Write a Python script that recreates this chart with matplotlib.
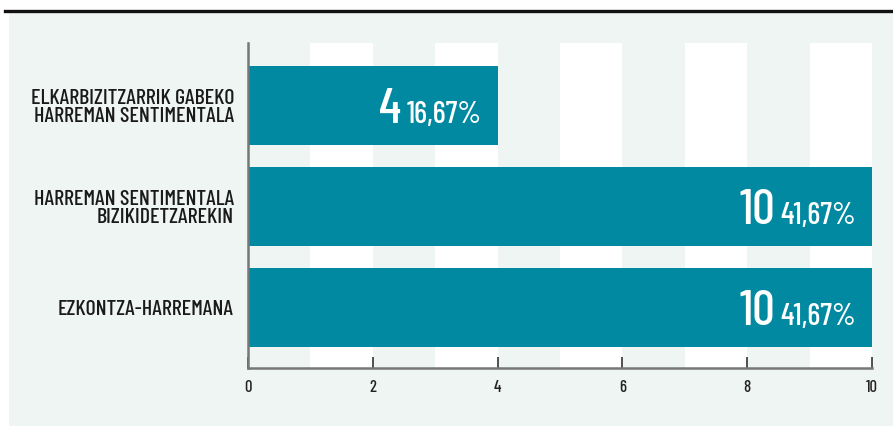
import matplotlib
matplotlib.use("Agg")
import matplotlib.pyplot as plt
from matplotlib.lines import Line2D
from matplotlib.patches import Rectangle

categories = ["ELKARBIZITZARRIK GABEKO\nHARREMAN SENTIMENTALA",
              "HARREMAN SENTIMENTALA\nBIZIKIDETZAREKIN",
              "EZKONTZA-HARREMANA"]
values = [4, 10, 10]
percents = ["16,67%", "41,67%", "41,67%"]
xticks = [0, 2, 4, 6, 8, 10]

FONT = ["Barlow Condensed", "DejaVu Sans"]
plt.rcParams['font.family'] = FONT

W, H = 893, 426
fig = plt.figure(figsize=(W / 100, H / 100), dpi=100)
fig.patch.set_facecolor("white")

# panel background
fig.add_artist(Rectangle((9 / W, 0), 1 - 9 / W, (H - 12) / H, transform=fig.transFigure,
                         facecolor="#eff5f3", edgecolor="none", zorder=0))
# top black line
fig.add_artist(Line2D([5 / W, 1], [(H - 10.5) / H, (H - 10.5) / H], transform=fig.transFigure,
                      color="#111111", linewidth=2.4, zorder=1))

ax = fig.add_axes([248 / W, (H - 368) / H, (872 - 248) / W, (368 - 43) / H])
ax.set_facecolor("none")

# alternating white stripes
for s in range(1, 10, 2):
    ax.axvspan(s, s + 1, color="white", zorder=0, linewidth=0)

ypos = list(range(len(categories)))
bar_color = "#0089a0"
ax.barh(ypos, values, height=0.78, color=bar_color, zorder=2)

ax.set_xlim(0, 10)
ax.set_ylim(2.6, -0.62)
ax.set_xticks(xticks)
ax.set_xticklabels([str(t) for t in xticks], fontsize=12, fontweight=500, color="#222222")
ax.tick_params(axis="x", direction="in", length=8, width=1.2, color="#333333", pad=9)
ax.set_yticks(ypos)
ax.set_yticklabels(categories, fontsize=15.8, fontweight=500, color="#1a1a1a", linespacing=0.95)
ax.tick_params(axis="y", length=0, pad=10)

for side in ["top", "right"]:
    ax.spines[side].set_visible(False)
for side in ["left", "bottom"]:
    ax.spines[side].set_color("#777777")
    ax.spines[side].set_linewidth(1.8)

fig.canvas.draw()
renderer = fig.canvas.get_renderer()
for y, v, p in zip(ypos, values, percents):
    t = ax.annotate(p, xy=(v, y), xytext=(-11.5, -12.3), textcoords="offset points",
                    ha="right", va="baseline", fontsize=22, fontweight=500,
                    color="white", zorder=3)
    fig.canvas.draw()
    bb = t.get_window_extent(renderer)
    ax.annotate(str(v), xy=(v, y), xytext=(-11.5 - bb.width * 72 / 100 - 4, -12.3),
                textcoords="offset points", ha="right", va="baseline",
                fontsize=36, fontweight=500, color="white", zorder=3)

fig.savefig("out.png", dpi=100, facecolor=fig.get_facecolor())
